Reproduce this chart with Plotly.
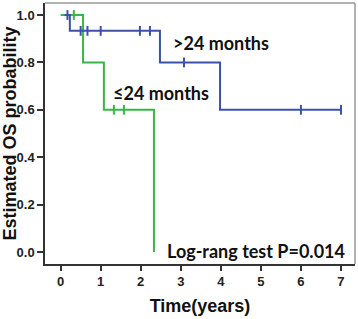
import plotly.graph_objects as go

# Kaplan-Meier step data
gt24_time = [0.10, 0.23, 2.48, 3.98, 7.00]
gt24_surv = [1.000, 0.933, 0.800, 0.600, 0.600]
gt24_cens_time = [0.17, 0.50, 0.67, 1.00, 1.98, 2.23, 3.08, 6.00, 7.00]
gt24_cens_surv = [1.000, 0.933, 0.933, 0.933, 0.933, 0.933, 0.800, 0.600, 0.600]

le24_time = [0.00, 0.56, 1.08, 2.33, 2.33]
le24_surv = [1.000, 0.800, 0.600, 0.600, 0.000]
le24_cens_time = [0.33, 1.33, 1.58]
le24_cens_surv = [1.000, 0.600, 0.600]

x_ticks = [0, 1, 2, 3, 4, 5, 6, 7]
y_ticks = [0.0, 0.2, 0.4, 0.6, 0.8, 1.0]
y_tick_labels = ["0.0", "0.2", "0.4", "0.6", "0.8", "1.0"]

BLUE = "#3d52a6"
GREEN = "#3cb44a"

def px_to_x(px):
    return (px - 60.7) / 40.04

def px_to_y(py):
    return 1.0 - (py - 15) / 237.0

fig = go.Figure()
fig.add_trace(go.Scatter(x=le24_time, y=le24_surv, mode="lines", line=dict(color=GREEN, width=2, shape="hv"), showlegend=False))
fig.add_trace(go.Scatter(x=le24_cens_time, y=le24_cens_surv, mode="markers",
                         marker=dict(symbol="line-ns", size=7, line=dict(color=GREEN, width=2)), showlegend=False))
fig.add_trace(go.Scatter(x=gt24_time, y=gt24_surv, mode="lines", line=dict(color=BLUE, width=2, shape="hv"), showlegend=False))
fig.add_trace(go.Scatter(x=gt24_cens_time, y=gt24_cens_surv, mode="markers",
                         marker=dict(symbol="line-ns", size=7, line=dict(color=BLUE, width=2)), showlegend=False))

ann_font = dict(family="Lato", size=18, color="#111111", weight="bold")
fig.add_annotation(x=px_to_x(221), y=px_to_y(43), text=">24 months", showarrow=False, font=ann_font)
fig.add_annotation(x=px_to_x(161), y=px_to_y(93), text="≤24 months", showarrow=False, font=ann_font)
fig.add_annotation(x=px_to_x(256), y=px_to_y(251), text="Log-rang test P=0.014", showarrow=False, font=ann_font)

fig.update_layout(
    width=358, height=319,
    margin=dict(l=45, r=3, t=3, b=55),
    paper_bgcolor="white", plot_bgcolor="white",
    font=dict(family="Liberation Sans", color="#222222"),
    xaxis=dict(range=[-0.39, 7.35], tickvals=x_ticks, ticks="outside", ticklen=5, tickwidth=1.5,
               tickcolor="#333333", showgrid=False, zeroline=False, automargin=False,
               showline=True, linecolor="#333333", linewidth=1.5, mirror=False,
               tickfont=dict(family="Liberation Sans", size=13, weight="bold", color="#222222"),
               title=dict(text="Time(years)", standoff=11,
                          font=dict(family="Liberation Sans", size=18, weight="bold", color="#111111"))),
    yaxis=dict(range=[-0.0506, 1.0506], tickvals=y_ticks, ticktext=y_tick_labels, ticks="outside", ticklen=6,
               tickwidth=1.5, tickcolor="#333333", showgrid=False, zeroline=False, automargin=False,
               showline=True, linecolor="#333333", linewidth=1.5, mirror=False,
               tickfont=dict(family="Liberation Sans", size=13, weight="bold", color="#222222"),
               title=dict(text="Estimated OS probability", standoff=4,
                          font=dict(family="Liberation Sans", size=18, weight="bold", color="#111111"))),
)
fig.add_shape(type="line", xref="paper", yref="paper", x0=0, x1=1, y0=1, y1=1, line=dict(color="#999999", width=1.5))
fig.add_shape(type="line", xref="paper", yref="paper", x0=1, x1=1, y0=0, y1=1, line=dict(color="#999999", width=1.5))

fig.write_html("out.html", config={"displayModeBar": False},
               post_script="document.body.style.margin='0';document.body.style.overflow='hidden';")
